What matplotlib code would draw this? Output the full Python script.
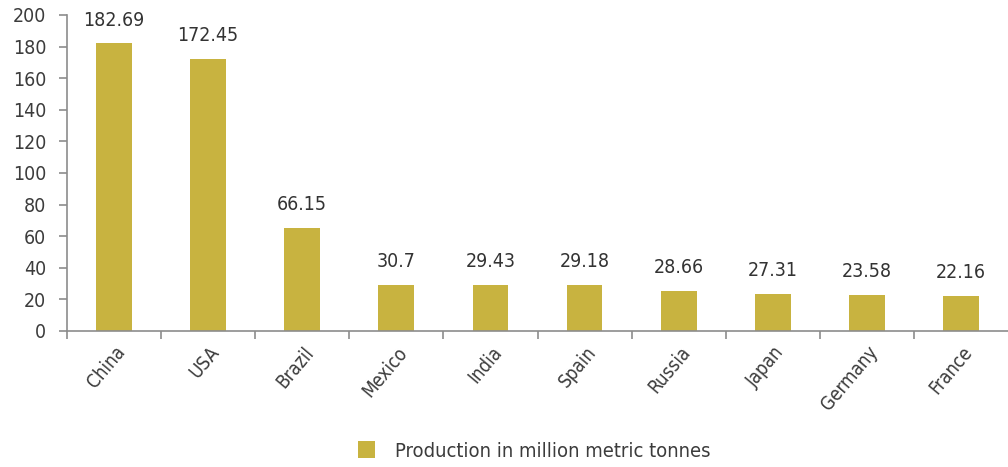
import matplotlib
matplotlib.use("Agg")
import matplotlib.pyplot as plt
import matplotlib.transforms as mtransforms
from matplotlib.patches import Patch

countries = ['China', 'USA', 'Brazil', 'Mexico', 'India', 'Spain',
             'Russia', 'Japan', 'Germany', 'France']
# printed values
labels = ['182.69', '172.45', '66.15', '30.7', '29.43', '29.18',
          '28.66', '27.31', '23.58', '22.16']
# bar heights as drawn in the picture
heights = [182, 172, 65, 29, 29, 29, 25.3, 23.4, 22.8, 22.2]

bar_color = '#C8B340'
axis_color = '#8c8c8c'
text_color = '#3c3c3c'

plt.rcParams['font.family'] = ['DejaVu Sans']
plt.rcParams['font.stretch'] = 'condensed'

fig = plt.figure(figsize=(10.08, 4.67), dpi=100)
ax = fig.add_axes([67/1008, 136/467, 941/1008, 316/467])

x = range(len(countries))
bars = ax.bar(x, heights, width=0.38, color=bar_color)

for b, lab in zip(bars, labels):
    ax.annotate(lab, (b.get_x() + b.get_width()/2, b.get_height()),
                xytext=(0, 10), textcoords='offset points',
                ha='center', va='bottom', fontsize=14, color='#333333')

ax.set_xlim(-0.5, len(countries) - 0.5)
ax.set_ylim(0, 200)
ax.set_yticks(range(0, 201, 20))
ax.tick_params(axis='y', colors=axis_color, labelcolor=text_color,
               labelsize=14, length=6, width=1.2, pad=9)

# x ticks sit between the categories
ax.set_xticks([i - 0.5 for i in range(len(countries))], minor=False)
ax.set_xticklabels([])
ax.set_xticks(list(x), minor=True)
ax.set_xticklabels(countries, minor=True, rotation=50, ha='right',
                   va='center', rotation_mode='anchor', fontsize=13.5,
                   color=text_color)
ax.tick_params(axis='x', which='major', colors=axis_color, length=6, width=1.2)
ax.tick_params(axis='x', which='minor', length=0, pad=13)
shift = mtransforms.ScaledTranslation(8/100, 0, fig.dpi_scale_trans)
for t in ax.get_xticklabels(minor=True):
    t.set_transform(t.get_transform() + shift)

for side in ['top', 'right']:
    ax.spines[side].set_visible(False)
for side in ['left', 'bottom']:
    ax.spines[side].set_color(axis_color)
    ax.spines[side].set_linewidth(1.2)

handle = Patch(facecolor=bar_color, edgecolor='none')
fig.legend([handle], ['Production in million metric tonnes'],
           loc='center', bbox_to_anchor=(534/1008, 1 - 451/467),
           frameon=False, fontsize=14.5, labelcolor=text_color,
           handlelength=0.85, handleheight=0.85, handletextpad=1.0)

fig.savefig('out.png', dpi=100)
